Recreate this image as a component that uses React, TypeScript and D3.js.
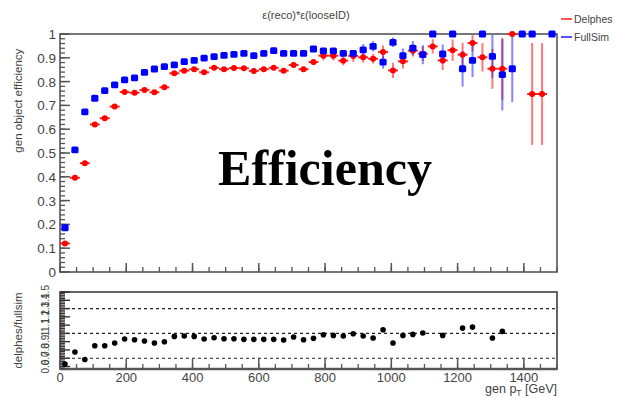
import React from "react";
import * as d3 from "d3";

const binCenters = [15,45,75,105,135,165,195,225,255,285,315,345,375,405,435,465,495,525,555,585,615,645,675,705,735,765,795,825,855,885,915,945,975,1005,1035,1065,1095,1125,1155,1185,1215,1245,1275,1305,1335,1365,1395,1425,1455,1485];

const fullSim = [0.186,0.513,0.673,0.73,0.762,0.786,0.807,0.816,0.839,0.853,0.863,0.87,0.884,0.889,0.899,0.905,0.91,0.914,0.919,0.909,0.919,0.93,0.919,0.919,0.919,0.937,0.929,0.929,0.919,0.919,0.933,0.948,0.882,0.965,0.909,0.941,0.913,1.0,0.916,1.0,0.854,0.889,1.0,0.906,0.829,0.854,1.0,1.0,null,1.0];
const fullSimErr = [0.012,0.01,0.006,0.006,0.006,0.006,0.006,0.006,0.006,0.006,0.006,0.006,0.006,0.006,0.006,0.006,0.006,0.006,0.006,0.008,0.008,0.008,0.008,0.008,0.008,0.012,0.012,0.012,0.012,0.012,0.025,0.022,0.028,0.02,0.03,0.03,0.04,0,0.04,0,0.075,0.07,0,0.09,0.15,0.14,0,0,0,0];

const delphes = [0.12,0.396,0.457,0.62,0.646,0.695,0.756,0.753,0.765,0.755,0.776,0.835,0.846,0.852,0.839,0.858,0.852,0.857,0.856,0.845,0.852,0.858,0.846,0.87,0.852,0.882,0.909,0.909,0.888,0.908,0.902,0.896,0.924,0.847,0.885,0.93,0.917,0.948,0.889,0.932,0.913,0.962,0.902,0.854,0.854,1.0,null,0.748,0.748,null];
const delphesErr = [0.008,0.008,0.008,0.008,0.008,0.008,0.008,0.008,0.008,0.008,0.008,0.008,0.008,0.008,0.008,0.008,0.008,0.008,0.008,0.01,0.01,0.01,0.01,0.01,0.01,0.012,0.02,0.02,0.02,0.025,0.022,0.02,0.028,0.032,0.03,0.025,0.03,0.03,0.04,0.045,0.05,0.035,0.06,0.084,0.13,0,0,0.214,0.214,0];

const ratio = [0.63,0.776,0.684,0.85,0.85,0.884,0.932,0.924,0.908,0.884,0.9,0.964,0.968,0.964,0.932,0.948,0.936,0.936,0.928,0.928,0.928,0.928,0.92,0.956,0.924,0.94,0.984,0.976,0.968,0.996,0.968,0.944,1.044,0.884,0.976,0.988,1.004,null,0.976,null,1.064,1.076,null,0.944,1.024,null,null,null,null,null];

const mainYTicks = [0,0.1,0.2,0.3,0.4,0.5,0.6,0.7,0.8,0.9,1];
const mainYLabels = ["0","0.1","0.2","0.3","0.4","0.5","0.6","0.7","0.8","0.9","1"];
const xTicks = [0,200,400,600,800,1000,1200,1400];
const xLabels = ["0","200","400","600","800","1000","1200","1400"];
const ratioYTicks = [0.6,0.7,0.8,0.9,1,1.1,1.2,1.3,1.4,1.5];
const ratioYLabels = ["0.6","0.7","0.8","0.9","1","1.1","1.2","1.3","1.4","1.5"];
const ratioRefLines = [0.7,1.0,1.3];

const FONT = "'Liberation Sans', Arial, Helvetica, sans-serif";
const TXT = "#444";
const FRAME = "#555";

export default function App() {
  const L = 60, R = 557;
  const x = d3.scaleLinear().domain([0, 1500]).range([L, R]);
  const y = d3.scaleLinear().domain([0, 1]).range([272, 34]);
  const yr = d3.scaleLinear().domain([0.57, 1.5]).range([369, 292]);
  const halfBin = (x(30) - x(0)) / 2;

  const minorY = d3.range(0, 1.0001, 0.02);
  const minorX = d3.range(0, 1501, 50);
  const minorYr = d3.range(0.58, 1.5001, 0.02);

  return (
    <svg width={619} height={398} style={{ position: "absolute", left: 0, top: 0, background: "#fff" }}>
      <rect x={0} y={0} width={619} height={398} fill="#fff" />
      {/* title */}
      <text x={306} y={19} textAnchor="middle" fontFamily={FONT} fontSize={11} fill={TXT}>ε(reco)*ε(looseID)</text>
      {/* legend */}
      <line x1={561} x2={572} y1={19} y2={19} stroke="#ff5555" strokeWidth={2} />
      <text x={574} y={23} fontFamily={FONT} fontSize={10.5} fill={TXT}>Delphes</text>
      <line x1={561} x2={572} y1={37} y2={37} stroke="#5555ff" strokeWidth={2} />
      <text x={574} y={41} fontFamily={FONT} fontSize={10.5} fill={TXT}>FullSim</text>

      {/* main y axis title */}
      <text transform={`translate(22,${y(0.72)}) rotate(-90)`} textAnchor="middle" fontFamily={FONT} fontSize={11.5} fill={TXT}>gen object efficiency</text>

      {/* main frame */}
      <rect x={L} y={y(1)} width={R - L} height={y(0) - y(1)} fill="none" stroke={FRAME} strokeWidth={1.6} />

      {/* main y ticks */}
      {minorY.map((v, i) => (
        <line key={"my" + i} x1={L} x2={L + 5} y1={y(v)} y2={y(v)} stroke={FRAME} strokeWidth={1.3} />
      ))}
      {mainYTicks.map((v, i) => (
        <g key={"My" + i}>
          <line x1={L} x2={L + 10} y1={y(v)} y2={y(v)} stroke={FRAME} strokeWidth={1.5} />
          <text x={L - 4} y={y(v) + 5} textAnchor="end" fontFamily={FONT} fontSize={13.5} fill={TXT}>{mainYLabels[i]}</text>
        </g>
      ))}
      {/* main x ticks */}
      {minorX.map((v, i) => (
        <line key={"mx" + i} x1={x(v)} x2={x(v)} y1={y(0)} y2={y(0) - 5} stroke={FRAME} strokeWidth={1.3} />
      ))}
      {xTicks.map((v, i) => (
        <line key={"Mx" + i} x1={x(v)} x2={x(v)} y1={y(0)} y2={y(0) - 9} stroke={FRAME} strokeWidth={1.5} />
      ))}

      {/* delphes error bars */}
      {binCenters.map((c, i) => delphes[i] == null ? null : (
        <g key={"de" + i} stroke="#ff2020" strokeOpacity={0.6} strokeWidth={2}>
          <line x1={x(c)} x2={x(c)} y1={y(Math.min(1, delphes[i] + delphesErr[i]))} y2={y(delphes[i] - delphesErr[i])} />
          <line x1={x(c) - halfBin} x2={x(c) + halfBin} y1={y(delphes[i])} y2={y(delphes[i])} strokeOpacity={1} stroke="#ff2020" />
        </g>
      ))}
      {/* fullsim error bars */}
      {binCenters.map((c, i) => fullSim[i] == null ? null : (
        <g key={"fe" + i} stroke="#2020ff" strokeOpacity={0.55} strokeWidth={2}>
          <line x1={x(c)} x2={x(c)} y1={y(Math.min(1, fullSim[i] + fullSimErr[i]))} y2={y(fullSim[i] - fullSimErr[i])} />
        </g>
      ))}
      {/* delphes markers */}
      {binCenters.map((c, i) => delphes[i] == null ? null : (
        <circle key={"dm" + i} cx={x(c)} cy={y(delphes[i])} r={3} fill="#ff0000" />
      ))}
      {/* fullsim markers */}
      {binCenters.map((c, i) => fullSim[i] == null ? null : (
        <rect key={"fm" + i} x={x(c) - 3.6} y={y(fullSim[i]) - 3.4} width={7.2} height={6.8} rx={1.5} fill="#0000ff" />
      ))}

      {/* Efficiency label */}
      <text x={325} y={185} textAnchor="middle" fontFamily="'Liberation Serif', 'Times New Roman', serif" fontWeight="bold" fontSize={50} fill="#000">Efficiency</text>

      {/* ratio panel */}
      <text transform={`translate(22,${(292 + 369) / 2}) rotate(-90)`} textAnchor="middle" fontFamily={FONT} fontSize={11.5} fill={TXT}>delphes/fullsim</text>
      {ratioRefLines.map((v, i) => (
        <line key={"rl" + i} x1={L} x2={R} y1={yr(v)} y2={yr(v)} stroke="#222" strokeWidth={1.2} strokeDasharray="3,3" />
      ))}
      <rect x={L} y={292} width={R - L} height={369 - 292} fill="none" stroke={FRAME} strokeWidth={1.8} />
      <line x1={L} x2={R} y1={369} y2={369} stroke={FRAME} strokeWidth={2.5} />
      {minorYr.map((v, i) => (
        <line key={"ry" + i} x1={L} x2={L + 5} y1={yr(v)} y2={yr(v)} stroke="#333" strokeWidth={1.2} />
      ))}
      {ratioYTicks.map((v, i) => (
        <g key={"RY" + i}>
          <line x1={L} x2={L + 10} y1={yr(v)} y2={yr(v)} stroke="#333" strokeWidth={1.4} />
          <text transform={`translate(${L - 15},${yr(v)}) rotate(-90)`} textAnchor="middle" fontFamily={FONT} fontSize={10} fill={TXT} dy={3.5}>{ratioYLabels[i]}</text>
        </g>
      ))}
      {minorX.map((v, i) => (
        <line key={"rx" + i} x1={x(v)} x2={x(v)} y1={369} y2={364} stroke={FRAME} strokeWidth={1.3} />
      ))}
      {xTicks.map((v, i) => (
        <g key={"RX" + i}>
          <line x1={x(v)} x2={x(v)} y1={369} y2={359} stroke={FRAME} strokeWidth={1.5} />
          <text x={x(v)} y={382} textAnchor="middle" fontFamily={FONT} fontSize={13} fill={TXT}>{xLabels[i]}</text>
        </g>
      ))}
      {binCenters.map((c, i) => ratio[i] == null ? null : (
        <circle key={"rp" + i} cx={x(c)} cy={yr(ratio[i])} r={2.8} fill="#000" />
      ))}
      <text x={R} y={393} textAnchor="end" fontFamily={FONT} fontSize={12.5} fill={TXT}>gen p<tspan fontSize={8.5} dy={3}>T</tspan><tspan dy={-3}> [GeV]</tspan></text>
    </svg>
  );
}
